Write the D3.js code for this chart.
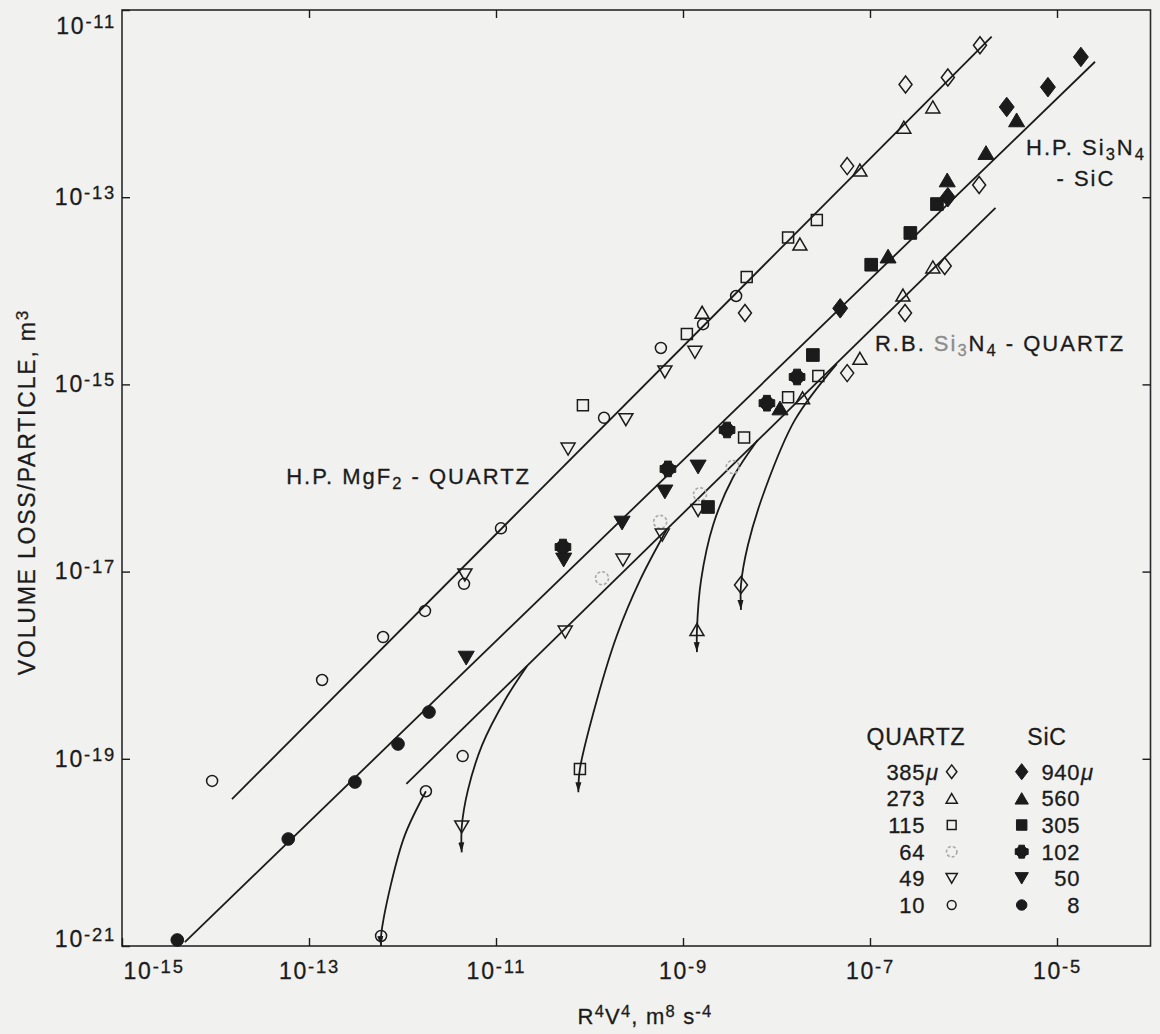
<!DOCTYPE html>
<html>
<head>
<meta charset="utf-8">
<script src="https://cdn.jsdelivr.net/npm/d3@7"></script>
<style>
  body { margin: 0; background: #f1f1ef; }
  svg { display: block; font-family: "Liberation Sans", Arial, sans-serif; }
  text { fill: #1b1b1b; stroke: #1b1b1b; stroke-width: 0.3px; }
</style>
</head>
<body>
<svg id="chart" width="1160" height="1034"></svg>
<script>
// axis ticks (every second decade)
const X_TICKS = [1e-15, 1e-13, 1e-11, 1e-9, 1e-7, 1e-5]
const Y_TICKS = [1e-21, 1e-19, 1e-17, 1e-15, 1e-13, 1e-11]

// quartz particles (open symbols): [R^4V^4, volume loss per particle]
const quartz385 = [
  [1.5e-6, 4.2e-12], [6.8e-7, 1.9e-12], [2.4e-7, 1.6e-12], [5.7e-8, 2.15e-13],
  [1.47e-6, 1.35e-13], [6.3e-7, 1.84e-14], [2.37e-7, 5.8e-15], [4.6e-9, 5.8e-15],
  [5.7e-8, 1.32e-15], [4.17e-9, 7.2e-18]
]
const quartz273 = [
  [4.7e-7, 9.2e-13], [2.3e-7, 5.6e-13], [7.8e-8, 1.95e-13], [1.78e-8, 3.16e-14],
  [4.7e-7, 1.8e-14], [2.25e-7, 9.0e-15], [1.6e-9, 5.9e-15], [7.8e-8, 1.9e-15],
  [1.9e-8, 7.2e-16], [1.41e-9, 2.4e-18]
]
const quartz115 = [
  [1.33e-8, 3.7e-14], [2.7e-8, 5.7e-14], [4.8e-9, 1.4e-14], [1.1e-9, 3.45e-15],
  [8.5e-11, 6.0e-16], [4.5e-9, 2.7e-16], [1.33e-8, 7.3e-16], [2.8e-8, 1.23e-15],
  [7.9e-11, 7.8e-20]
]
const quartz64 = [[3.4e-9, 1.31e-16], [1.52e-9, 6.7e-17], [5.7e-10, 3.4e-17], [1.36e-10, 8.5e-18]]
const quartz49 = [
  [1.34e-9, 2.2e-15], [6.4e-10, 1.36e-15], [2.45e-10, 4.2e-16], [5.9e-11, 2.04e-16],
  [4.65e-12, 9.2e-18], [1.45e-9, 4.5e-17], [6.0e-10, 2.46e-17], [2.28e-10, 1.33e-17],
  [5.5e-11, 2.26e-18], [4.3e-12, 1.87e-20]
]
const quartz10 = [
  [3.7e-9, 8.8e-15], [1.64e-9, 4.4e-15], [5.8e-10, 2.45e-15], [1.43e-10, 4.4e-16],
  [1.13e-11, 2.9e-17], [4.55e-12, 7.4e-18], [1.74e-12, 3.8e-18], [6.2e-13, 2.0e-18],
  [1.38e-13, 6.95e-19], [9.2e-15, 5.8e-20], [4.4e-12, 1.07e-19], [1.78e-12, 4.5e-20],
  [5.9e-13, 1.28e-21]
]

// SiC particles (filled symbols)
const sic940 = [[1.8e-5, 3.15e-12], [8.0e-6, 1.5e-12], [2.9e-6, 9.2e-13], [6.8e-7, 1.0e-13], [4.8e-8, 6.5e-15]]
const sic560 = [[3.7e-6, 6.7e-13], [1.74e-6, 3.0e-13], [6.7e-7, 1.53e-13], [1.56e-7, 2.35e-14], [1.09e-8, 5.6e-16]]
const sic305 = [[5.2e-7, 8.45e-14], [2.7e-7, 4.15e-14], [1.03e-7, 1.9e-14], [2.45e-8, 2.06e-15], [1.85e-9, 4.9e-17]]
const sic102 = [[1.66e-8, 1.2e-15], [7.9e-9, 6.3e-16], [2.96e-9, 3.26e-16], [6.9e-10, 1.25e-16], [5.2e-11, 1.83e-17]]
const sic50 = [[1.45e-9, 1.31e-16], [6.4e-10, 7.1e-17], [2.23e-10, 3.3e-17], [5.3e-11, 1.33e-17], [4.8e-12, 1.19e-18]]
const sic8 = [[3.9e-15, 1.16e-21], [6.0e-14, 1.39e-20], [3.1e-13, 5.65e-20], [8.95e-13, 1.44e-19], [1.92e-12, 3.16e-19]]

// fitted lines (two end points each)
const lineMgF2 = [[1.5e-14, 3.7e-20], [2.0e-6, 5.2e-12]]
const lineSiC = [[4.7e-15, 1.1e-21], [2.55e-5, 2.8e-12]]
const lineRB = [[1.1e-12, 5.4e-20], [2.2e-6, 7.7e-14]]

// R.B. Si3N4 tails bending down to the arrowed points
const tail10 = [[1.78e-12, 4.5e-20], [1.06e-12, 1.53e-20], [7.5e-13, 4.5e-21], [5.9e-13, 1.28e-21], [5.9e-13, 1.0e-21]]
const tail49 = [[2.15e-11, 9.8e-19], [1.25e-11, 4.25e-19], [7.1e-12, 1.4e-19], [5.0e-12, 4.6e-20], [4.3e-12, 1.87e-20], [4.3e-12, 1.0e-20]]
const tail115 = [[6.75e-10, 2.85e-17], [3.47e-10, 8.1e-18], [1.97e-10, 2.1e-18], [1.2e-10, 4.25e-19], [7.9e-11, 7.8e-20], [7.6e-11, 4.4e-20]]
const tail273 = [[6.3e-9, 2.55e-16], [3.4e-9, 1.0e-16], [2.1e-9, 3.15e-17], [1.56e-9, 8.1e-18], [1.41e-9, 2.4e-18], [1.41e-9, 1.38e-18]]
const tail385 = [[4.4e-8, 1.65e-15], [1.58e-8, 4.2e-16], [7.5e-9, 7.45e-17], [4.95e-9, 1.92e-17], [4.17e-9, 7.2e-18], [4.17e-9, 3.9e-18]]

// legend
const QUARTZ_SIZES = ['385', '273', '115', '64', '49', '10']
const SIC_SIZES = ['940', '560', '305', '102', '50', '8']

const QUARTZ_SERIES = [
  { data: quartz385, shape: 'diamond' },
  { data: quartz273, shape: 'triUp' },
  { data: quartz115, shape: 'square' },
  { data: quartz64, shape: 'dashCircle' },
  { data: quartz49, shape: 'triDown' },
  { data: quartz10, shape: 'circle' }
]
const SIC_SERIES = [
  { data: sic940, shape: 'diamond' },
  { data: sic560, shape: 'triUp' },
  { data: sic305, shape: 'square' },
  { data: sic102, shape: 'crossCircle' },
  { data: sic50, shape: 'triDown' },
  { data: sic8, shape: 'circle' }
]

const INK = '#1b1b1b'
const svg = d3.select('#chart')

const x = d3.scaleLog().domain([1e-15, 1e-4]).range([122, 1150.5])
const y = d3.scaleLog().domain([1e-21, 1e-11]).range([946, 10])

// text with super/subscripts: parts = [[text, 'sup'|'sub'|null, color]]
let rich = (sel, parts, sup = -7, sub = 5, small = '0.75em') => {
  let shift = 0
  parts.forEach(([t, kind, color]) => {
    let target = kind === 'sup' ? sup : kind === 'sub' ? sub : 0
    let ts = sel.append('tspan').text(t)
    // only shift when needed, so the parent's own dy still applies
    if (target - shift !== 0) ts.attr('dy', target - shift)
    if (kind) ts.attr('font-size', small)
    if (color) ts.style('fill', color).style('stroke', color)
    shift = target
  })
}

let powLabel = (sel, d) => {
  let e = Math.round(Math.log10(d))
  sel.text(null)
  rich(sel, [['10'], [String(e), 'sup']], -6, 0, '0.8em')
}

// marker shapes, s = scale
let shapePath = (shape, s) => {
  let p = d3.path()
  if (shape === 'diamond') {
    let w = 6.5 * s, h = 8.5 * s
    p.moveTo(0, -h); p.lineTo(w, 0); p.lineTo(0, h); p.lineTo(-w, 0); p.closePath()
  } else if (shape === 'triUp' || shape === 'triDown') {
    let w = 7 * s, h = 6 * s, k = shape === 'triUp' ? 1 : -1
    p.moveTo(0, -h * k); p.lineTo(w, h * k); p.lineTo(-w, h * k); p.closePath()
  } else if (shape === 'square') {
    let a = 5.5 * s
    p.rect(-a, -a, 2 * a, 2 * a)
  } else if (shape === 'crossCircle') {
    let r = 6 * s, a = 3 * s, l = 6.8 * s
    p.moveTo(r, 0); p.arc(0, 0, r, 0, 2 * Math.PI)
    p.rect(-a, -l, 2 * a, 2 * l)
    p.rect(-l, -a, 2 * l, 2 * a)
  } else {
    let r = (shape === 'dashCircle' ? 6.5 : 5.5) * s
    p.moveTo(r, 0); p.arc(0, 0, r, 0, 2 * Math.PI)
  }
  return p.toString()
}

let styleMarker = (sel, shape, filled) => {
  if (shape === 'dashCircle') {
    sel.attr('fill', 'none').attr('stroke', '#a9a9a9').attr('stroke-width', 1.6).attr('stroke-dasharray', '3,2')
  } else if (filled) {
    sel.attr('fill', INK).attr('stroke', INK).attr('stroke-width', 1)
  } else {
    sel.attr('fill', 'none').attr('stroke', INK).attr('stroke-width', 1.5)
  }
}

// arrow head
svg.append('defs').append('marker')
  .attr('id', 'arrow')
  .attr('viewBox', '0 0 10 10')
  .attr('refX', 10).attr('refY', 5)
  .attr('markerWidth', 10).attr('markerHeight', 10)
  .attr('markerUnits', 'userSpaceOnUse')
  .attr('orient', 'auto')
  .append('path').attr('d', 'M0,2L10,5L0,8Z').attr('fill', INK)

// frame
svg.append('rect')
  .attr('x', x(1e-15)).attr('y', y(1e-11))
  .attr('width', x(1e-4) - x(1e-15)).attr('height', y(1e-21) - y(1e-11))
  .attr('fill', 'none').attr('stroke', '#2a2a2a').attr('stroke-width', 1.6)

let styleAxis = g => {
  g.select('.domain').remove()
  g.attr('font-size', 23).attr('font-family', '"Liberation Sans", Arial, sans-serif').style('color', INK)
  g.selectAll('.tick line').attr('stroke-width', 1.4)
  g.selectAll('.tick text').attr('letter-spacing', 1.8)
}

let gBottom = svg.append('g')
  .attr('transform', `translate(0,${y(1e-21)})`)
  .call(d3.axisBottom(x).tickValues(X_TICKS).tickSize(-8).tickPadding(17))
  .call(styleAxis)
gBottom.selectAll('.tick text').each(function (d) { powLabel(d3.select(this), d) })
gBottom.selectAll('.tick').filter(d => d === 1e-15).select('text').attr('text-anchor', 'start').attr('x', 1)

let gLeft = svg.append('g')
  .attr('transform', `translate(${x(1e-15)},0)`)
  .call(d3.axisLeft(y).tickValues(Y_TICKS).tickSize(-8).tickPadding(6))
  .call(styleAxis)
gLeft.selectAll('.tick text').each(function (d) { powLabel(d3.select(this), d) })
gLeft.selectAll('.tick').filter(d => d === 1e-11).select('text').attr('y', 16)
gLeft.selectAll('.tick').filter(d => d === 1e-21).select('text').attr('y', -7)

svg.append('g')
  .attr('transform', `translate(0,${y(1e-11)})`)
  .call(d3.axisTop(x).tickValues(X_TICKS.slice(1)).tickSize(-8).tickFormat(''))
  .call(styleAxis)

svg.append('g')
  .attr('transform', `translate(${x(1e-4)},0)`)
  .call(d3.axisRight(y).tickValues(Y_TICKS.slice(1, -1)).tickSize(-8).tickFormat(''))
  .call(styleAxis)

// axis titles
let yTitle = svg.append('text')
  .attr('transform', 'translate(35,492) rotate(-90)')
  .attr('text-anchor', 'middle').attr('font-size', 23).attr('letter-spacing', 1.8)
rich(yTitle, [['VOLUME LOSS/PARTICLE, m'], ['3', 'sup']])

let xTitle = svg.append('text')
  .attr('x', 645).attr('y', 1024)
  .attr('text-anchor', 'middle').attr('font-size', 22).attr('letter-spacing', 1.2)
rich(xTitle, [['R'], ['4', 'sup'], ['V'], ['4', 'sup'], [', m'], ['8', 'sup'], [' s'], ['-4', 'sup']])

// fitted lines
let line = d3.line().x(d => x(d[0])).y(d => y(d[1]))
let curve = d3.line().x(d => x(d[0])).y(d => y(d[1])).curve(d3.curveCatmullRom)

svg.append('g').selectAll('path')
  .data([lineMgF2, lineSiC, lineRB])
  .enter().append('path')
  .attr('d', line)
  .attr('fill', 'none').attr('stroke', INK).attr('stroke-width', 1.8)

svg.append('g').selectAll('path')
  .data([tail10, tail49, tail115, tail273, tail385])
  .enter().append('path')
  .attr('d', curve)
  .attr('fill', 'none').attr('stroke', INK).attr('stroke-width', 1.8)
  .attr('marker-end', 'url(#arrow)')

// data points
let drawSeries = (series, filled, scale) => {
  series.forEach(s => {
    svg.append('g').selectAll('path')
      .data(s.data)
      .enter().append('path')
      .attr('transform', d => `translate(${x(d[0])},${y(d[1])})`)
      .attr('d', shapePath(s.shape, scale))
      .call(sel => styleMarker(sel, s.shape, filled))
  })
}
drawSeries(QUARTZ_SERIES, false, 1)
drawSeries(SIC_SERIES, true, 1.15)

// line labels
let label = (px, py, anchor, parts) => {
  let t = svg.append('text').attr('x', px).attr('y', py)
    .attr('text-anchor', anchor).attr('font-size', 22).attr('letter-spacing', 2)
  rich(t, parts, -7, 5)
  return t
}
label(x(5.7e-14), y(8.6e-17), 'start', [['H.P. MgF'], ['2', 'sub'], [' - QUARTZ']])
label(x(2.04e-5), y(2.8e-13), 'middle', [['H.P. Si'], ['3', 'sub'], ['N'], ['4', 'sub']])
label(x(2.04e-5), y(2.8e-13) + 31, 'middle', [['- SiC']])
label(x(1.13e-7), y(2.28e-15), 'start', [['R.B. '], ['Si', null, '#8c8c8c'], ['3', 'sub', '#8c8c8c'], ['N'], ['4', 'sub'], [' - QUARTZ']])

// legend
let legend = svg.append('g')
let rowY = d3.scaleLinear().domain([0, QUARTZ_SIZES.length - 1]).range([771.7, 905])

legend.append('text').attr('x', 916).attr('y', 745).attr('text-anchor', 'middle')
  .attr('font-size', 23).attr('letter-spacing', 0.8).text('QUARTZ')
legend.append('text').attr('x', 1047).attr('y', 745).attr('text-anchor', 'middle')
  .attr('font-size', 23).attr('letter-spacing', 0.8).text('SiC')

QUARTZ_SIZES.forEach((v, i) => {
  legend.append('text').attr('x', 925).attr('y', rowY(i) + 8).attr('text-anchor', 'end')
    .attr('font-size', 22).attr('letter-spacing', 0.6).text(v)
  if (i === 0) legend.append('text').attr('x', 926).attr('y', rowY(i) + 8)
    .attr('font-size', 22).attr('font-style', 'italic').text('μ')
  legend.append('path')
    .attr('transform', `translate(951.7,${rowY(i)})`)
    .attr('d', shapePath(QUARTZ_SERIES[i].shape, 0.8))
    .call(sel => styleMarker(sel, QUARTZ_SERIES[i].shape, false))
})

SIC_SIZES.forEach((v, i) => {
  legend.append('text').attr('x', 1080).attr('y', rowY(i) + 8).attr('text-anchor', 'end')
    .attr('font-size', 22).attr('letter-spacing', 0.6).text(v)
  if (i === 0) legend.append('text').attr('x', 1081).attr('y', rowY(i) + 8)
    .attr('font-size', 22).attr('font-style', 'italic').text('μ')
  legend.append('path')
    .attr('transform', `translate(1021.7,${rowY(i)})`)
    .attr('d', shapePath(SIC_SERIES[i].shape, 0.95))
    .call(sel => styleMarker(sel, SIC_SERIES[i].shape, true))
})
</script>
</body>
</html>
